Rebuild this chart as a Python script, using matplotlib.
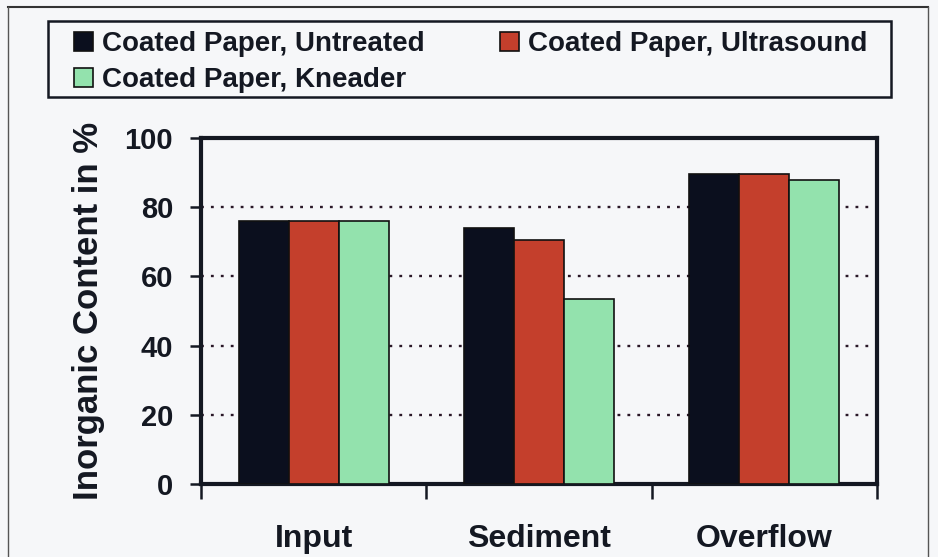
import numpy as np
import matplotlib
matplotlib.use('Agg')
from matplotlib import pyplot as plt
from matplotlib.lines import Line2D
from matplotlib.patches import Rectangle

# data
categories = ['Input', 'Sediment', 'Overflow']
untreated = [76, 74, 89.5]
ultrasound = [76, 70.5, 89.5]
kneader = [76, 53.5, 88]
series_names = ['Coated Paper, Untreated', 'Coated Paper, Ultrasound', 'Coated Paper, Kneader']
yticks = [0, 20, 40, 60, 80, 100]

colors = ['#0b0f1e', '#c43f2c', '#93e2ad']
bg = '#f6f7f9'
ink = '#141822'

plt.rcParams['font.family'] = ['Liberation Sans', 'DejaVu Sans']
plt.rcParams['font.weight'] = 'bold'

W, H = 938, 557
fig = plt.figure(figsize=(W / 100, H / 100), dpi=100, facecolor=bg)
ax = fig.add_axes([201 / W, 1 - 484 / H, 676 / W, 346 / H])
ax.set_facecolor(bg)

x = np.arange(len(categories))
w = 0.222
bars = []
for i, (vals, c, name) in enumerate(zip([untreated, ultrasound, kneader], colors, series_names)):
    b = ax.bar(x + (i - 1) * w, vals, w, color=c, edgecolor='#111111', linewidth=1.2, label=name, zorder=3)
    bars.append(b)

ax.set_xlim(-0.5, 2.5)
ax.set_ylim(0, 100)
ax.set_yticks(yticks)
ax.set_yticklabels([str(t) for t in yticks], fontsize=21, fontweight='bold', color=ink)
ax.tick_params(axis='y', length=8, width=1.8, direction='out', pad=12, colors=ink)

# category separators as ticks, labels at centers
ax.set_xticks([-0.5, 0.5, 1.5, 2.5])
ax.set_xticklabels([])
ax.tick_params(axis='x', which='major', length=11, width=1.8, direction='out', colors=ink)
ax.set_xticks(x, minor=True)
ax.set_xticklabels(categories, minor=True, fontsize=23, fontweight='bold', color=ink)
ax.tick_params(axis='x', which='minor', length=0, pad=29)

ax.yaxis.grid(True, linestyle=(0, (1.2, 3)), color='#2a1828', linewidth=1.7)
ax.set_axisbelow(True)
for s in ax.spines.values():
    s.set_linewidth(3)
    s.set_color(ink)

ax.set_ylabel('Inorganic Content in %', fontsize=25, fontweight='bold', color=ink, labelpad=14)

# legend: frame drawn separately, entries packed inside
fig.add_artist(Rectangle((48 / W, 1 - 97 / H), (891 - 48) / W, 76 / H, transform=fig.transFigure,
                         facecolor=bg, edgecolor=ink, linewidth=1.8, zorder=1))
handles = [bars[0], bars[2], bars[1]]
labels = [series_names[0], series_names[2], series_names[1]]
leg = fig.legend(handles, labels, loc='center', bbox_to_anchor=(74 / W, 1 - 83 / H, (867 - 74) / W, 42 / H),
                 mode='expand', ncol=2, fontsize=20, frameon=False,
                 handlelength=0.68, handleheight=0.68, handletextpad=0.32, borderaxespad=0,
                 labelspacing=0.35, borderpad=0, columnspacing=1.0)
leg.set_zorder(2)
for t in leg.get_texts():
    t.set_color(ink)

# scanned page border
fig.add_artist(Line2D([8 / W, 928 / W], [1 - 7 / H, 1 - 7 / H], transform=fig.transFigure, color='#333333', linewidth=1.5))
fig.add_artist(Line2D([8 / W, 8 / W], [0, 1 - 7 / H], transform=fig.transFigure, color='#555555', linewidth=1.0))
fig.add_artist(Line2D([928 / W, 928 / W], [0, 1 - 7 / H], transform=fig.transFigure, color='#555555', linewidth=1.0))

fig.savefig('out.png', dpi=100, facecolor=bg)
